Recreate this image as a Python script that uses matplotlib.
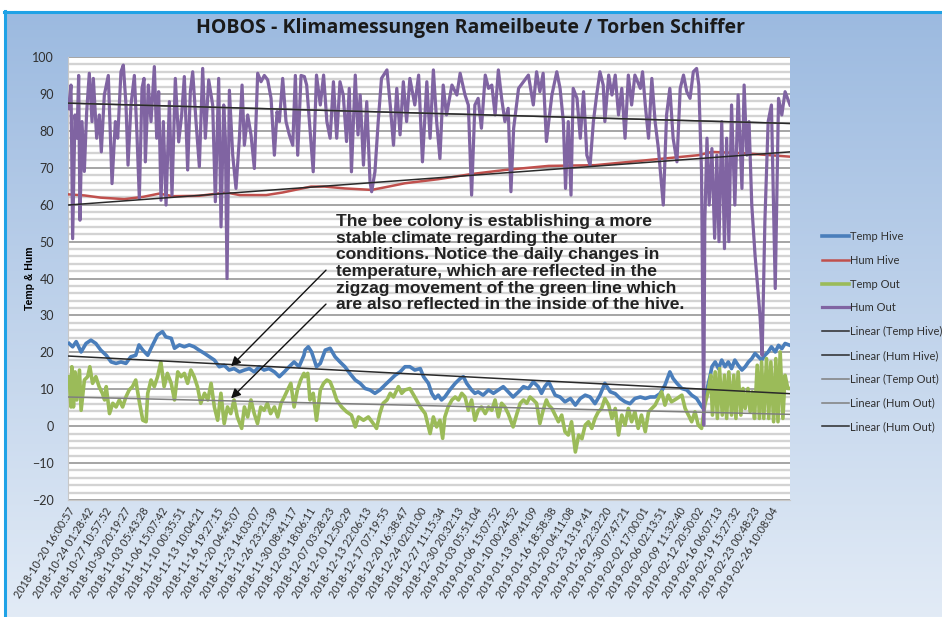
import numpy as np
import matplotlib
matplotlib.use("Agg")
import matplotlib.pyplot as plt

# ---------------- data (days since 2018-10-20 16:00:57) ----------------
tick_labels = [
    "2018-10-20 16:00:57", "2018-10-24 01:28:42", "2018-10-27 10:57:52", "2018-10-30 20:19:27",
    "2018-11-03 05:43:28", "2018-11-06 15:07:42", "2018-11-10 00:35:51", "2018-11-13 10:04:21",
    "2018-11-16 19:27:15", "2018-11-20 04:45:07", "2018-11-23 14:03:07", "2018-11-26 23:21:39",
    "2018-11-30 08:41:17", "2018-12-03 18:06:11", "2018-12-07 03:28:23", "2018-12-10 12:50:29",
    "2018-12-13 22:06:13", "2018-12-17 07:19:55", "2018-12-20 16:38:47", "2018-12-24 02:01:00",
    "2018-12-27 11:15:34", "2018-12-30 20:32:13", "2019-01-03 05:51:04", "2019-01-06 15:07:52",
    "2019-01-10 00:24:52", "2019-01-13 09:41:09", "2019-01-16 18:58:38", "2019-01-20 04:11:08",
    "2019-01-23 13:19:41", "2019-01-26 22:32:20", "2019-01-30 07:47:21", "2019-02-02 17:00:01",
    "2019-02-06 02:13:51", "2019-02-09 11:32:40", "2019-02-12 20:50:02", "2019-02-16 06:07:13",
    "2019-02-19 15:27:32", "2019-02-23 00:48:23", "2019-02-26 10:08:04",
]
tick_days = [0.0, 3.39, 6.78, 10.18, 13.57, 16.96, 20.36, 23.75, 27.14, 30.53, 33.92, 37.31,
             40.70, 44.09, 47.48, 50.87, 54.25, 57.64, 61.03, 64.42, 67.80, 71.19, 74.58,
             77.96, 81.35, 84.74, 88.12, 91.51, 94.89, 98.27, 101.66, 105.04, 108.42,
             111.81, 115.20, 118.59, 121.98, 125.37, 128.76]
x_end = 132.2

hum_out_days = [
    0.1, 0.55, 0.85, 1.28, 1.64, 1.95, 2.19, 2.56, 2.99, 3.42, 3.9, 4.4, 4.64, 5.25, 5.74, 6.1,
    6.65, 7.38, 8.06, 8.67, 9.1, 9.7, 10.13, 10.62, 10.99, 11.53, 12.15, 12.63, 13.06, 13.55,
    13.92, 14.16, 14.71, 15.2, 15.81, 16.24, 16.6, 17.03, 17.46, 17.95, 18.56, 19.04, 19.65,
    20.27, 20.81, 21.3, 21.91, 22.4, 22.83, 23.44, 24.05, 24.66, 25.15, 25.76, 26.49, 26.98,
    27.59, 28.02, 28.51, 28.81, 29.12, 29.55, 30.16, 30.76, 31.38, 31.87, 32.29, 32.9, 33.51,
    34.12, 34.73, 35.34, 35.95, 36.56, 37.18, 37.79, 38.28, 38.7, 39.31, 39.92, 40.53, 41.15,
    41.63, 42.06, 42.67, 43.28, 43.7, 44.9, 45.5, 46.2, 46.8, 47.4, 48.0, 48.6, 49.2, 49.8,
    50.4, 51.0, 51.5, 51.9, 52.6, 53.1, 53.5, 54.1, 54.7, 55.3, 55.6, 56.2, 56.8, 57.4, 58.4,
    59.0, 59.6, 60.2, 60.8, 61.4, 62.0, 62.6, 63.5, 64.2, 64.9, 65.7, 66.3, 66.9, 67.5, 68.1,
    68.7, 69.3, 70.3, 71.2, 71.8, 72.7, 73.3, 73.9, 74.5, 75.1, 75.7, 76.4, 77.0, 77.6, 78.2,
    78.8, 79.4, 80.0, 80.6, 81.1, 81.6, 82.5, 83.4, 84.3, 85.2, 85.8, 86.4, 87.0, 87.6, 88.6,
    89.5, 90.1, 90.7, 91.1, 91.6, 92.1, 92.5, 93.2, 93.8, 94.4, 95.0, 95.6, 96.2, 96.8, 97.4,
    98.0, 98.3, 99.0, 99.6, 100.2, 100.8, 101.4, 102.0, 102.6, 103.2, 103.8, 104.8, 105.2,
    105.7, 106.3, 106.9, 107.5, 108.1, 109.0, 109.6, 110.2, 110.8, 111.5, 112.1, 112.7, 113.3,
    113.9, 114.5, 115.1, 115.5, 116.0, 116.4, 116.6, 117.0, 117.4, 117.9, 118.4, 118.8, 119.2,
    119.7, 120.2, 120.6, 121.0, 121.5, 122.1, 122.7, 123.4, 123.8, 124.3, 124.7, 125.2, 125.8,
    126.3, 126.7, 127.1, 127.6, 128.2, 128.8, 129.5, 130.1, 130.7, 131.3, 132.2]
hum_out = [
    86, 92.4, 50.8, 84.3, 78, 95, 55.8, 82.5, 69, 85.2, 95.6, 82.5, 94.2, 78, 84.3, 74.3,
    89.7, 95, 65.7, 82.5, 78, 96, 97.8, 87, 70.7, 87, 95, 78.9, 61.7, 91.5,
    94.2, 71.6, 92.4, 82.5, 97.4, 78, 90.6, 61.2, 82.5, 59.9, 87.9, 62.6, 94.2,
    77, 84.3, 94.7, 69.4, 90.6, 96, 82.5, 70.3, 96.9, 78, 93.8, 87, 60.8,
    94.2, 54, 87, 78, 40, 91, 73.4, 64.4, 78, 92.4, 76.1, 84.3, 78.9,
    69.8, 95.6, 93.3, 95, 93.8, 88.8, 73.4, 85.2, 82.5, 94.2, 82.5, 78.9, 76.1,
    95, 73.4, 95, 94.7, 92.4, 68.9, 95.1, 87, 95.1, 82.5, 78, 93.3, 78, 93.3,
    89.7, 77.1, 91.5, 68.9, 95.1, 78.9, 89.7, 70.7, 87.9, 66.2, 63.5, 68.9, 82.5, 94.2, 96.5,
    87, 76.1, 91.5, 78.9, 93.3, 82.5, 94.2, 87, 95.1, 71.6, 93.3, 78, 96.5, 82.5, 72.5,
    92.4, 84.3, 92.4, 89.7, 95.6, 89.7, 87, 62.6, 87, 88.8, 80.7, 95.1, 91.5, 92.4, 84.3,
    96.5, 88.8, 82.5, 86.1, 63.5, 80.7, 91.5, 93.3, 95.1, 87, 96, 90.6, 95.6, 77.1, 89.7,
    96, 91.5, 82.5, 64.4, 82.5, 62.6, 91.5, 88.8, 78, 90.6, 73.4, 70.7, 82.5, 89.7, 96,
    92.4, 82.5, 95.1, 89.7, 95.1, 84.3, 91.5, 78, 95.1, 87, 95.1, 91.5, 96,
    87, 78, 94.2, 82.5, 75.2, 59.9, 84.3, 91.5, 78, 71.6, 91.5, 95.1, 90.6,
    88.8, 96, 96.9, 92.4, 68.9, 0.3, 55.4, 78, 59.9, 75.2, 50.9, 73.4, 50,
    82.5, 48.1, 78, 50, 87, 59.9, 89.7, 64.4, 92.4, 73.4, 82.5, 59.9, 46.3,
    37.3, 30.1, 19.2, 55.4, 82.5, 87, 37.3, 88.8, 84.3, 90.6, 87]

hum_hive_days = [0, 3, 6, 10.3, 13.7, 16.7, 19.2, 24, 29, 31.4, 36.3, 39.3, 44.5, 47, 50.7,
                 55.6, 58.7, 61.7, 67.8, 73.9, 80, 88, 96.5, 105.7, 115.4, 117.9, 124, 132.2]
hum_hive = [62.8, 62.5, 61.9, 61.5, 62.1, 63, 62.3, 62.4, 63.3, 62.6, 62.6, 63.3, 64.9, 64.9,
            64.4, 64.0, 64.9, 65.8, 66.9, 68.3, 69.4, 70.5, 70.7, 72.0, 73.4, 74.3, 73.9, 73.0]

temp_hive_days = [
    0.2, 0.85, 1.5, 2.4, 3.3, 4.2, 5.1, 6.0, 7.0, 7.9, 8.8, 9.7, 10.6, 11.5, 12.4, 13.0, 13.7,
    14.6, 15.2, 15.8, 16.4, 17.3, 17.9, 18.9, 19.5, 20.4, 21.3, 22.2, 23.1, 24.0, 25.0, 25.9,
    26.8, 27.7, 28.6, 29.5, 30.4, 31.4, 32.3, 33.2, 34.1, 35.0, 35.9, 36.8, 37.8, 38.7, 39.6,
    40.5, 41.4, 42.3, 43.2, 43.4, 44.0, 44.6, 45.5, 46.2, 47.1, 48.0, 48.9, 49.8, 50.7, 51.6,
    52.6, 53.5, 54.4, 55.3, 56.2, 57.1, 58.0, 59.0, 59.9, 60.8, 61.7, 62.6, 63.5, 64.5, 65.1,
    66.0, 66.6, 67.2, 67.8, 68.4, 69.0, 69.9, 70.9, 71.8, 72.4, 73.0, 73.9, 74.5, 75.1, 76.0,
    77.0, 77.9, 78.8, 79.7, 80.6, 81.5, 82.5, 83.4, 84.3, 85.2, 86.1, 86.7, 87.3, 88.0, 88.6,
    89.2, 90.1, 91.0, 92.0, 92.9, 93.8, 94.7, 95.6, 96.5, 97.4, 98.3, 99.3, 100.2, 101.1,
    102.0, 102.9, 103.8, 104.8, 105.7, 106.6, 107.5, 108.4, 109.3, 110.2, 110.8, 111.5, 112.4,
    113.3, 114.2, 115.1, 115.7, 116.3, 116.9, 117.6, 117.9, 118.5, 119.1, 119.7, 120.3, 120.9,
    121.5, 122.1, 122.7, 123.4, 124.0, 124.6, 125.2, 125.8, 126.4, 127.0, 127.6, 128.2, 128.8,
    129.5, 130.1, 130.7, 131.3, 132.2]
temp_hive = [
    22.4, 21.5, 22.9, 20.1, 22.4, 23.3, 22.4, 20.6, 19.2, 17.4, 17.0, 17.4, 17.0, 18.8, 19.2,
    22.0, 20.6, 19.2, 21.1, 22.9, 24.7, 25.6, 24.2, 23.8, 21.1, 22.0, 21.5, 22.0, 21.5, 20.6,
    19.7, 18.8, 17.9, 16.1, 16.5, 15.2, 15.6, 14.7, 15.2, 15.6, 14.7, 16.1, 15.2, 15.6, 14.7,
    13.4, 14.7, 16.1, 17.4, 16.1, 19.2, 20.6, 21.5, 20.1, 16.1, 17.0, 20.6, 21.1, 18.8, 17.4,
    16.1, 14.3, 12.5, 11.6, 10.2, 9.8, 8.9, 9.8, 11.1, 12.5, 13.8, 14.7, 16.1, 16.1, 15.2,
    15.6, 13.4, 11.6, 8.9, 7.5, 8.4, 7.1, 7.9, 9.8, 11.6, 12.9, 13.4, 11.6, 9.8, 8.9, 9.3,
    8.4, 9.8, 8.9, 9.8, 10.7, 9.3, 7.9, 9.3, 10.7, 10.2, 12.0, 10.7, 8.9, 10.7, 12.0, 10.2,
    8.4, 7.9, 6.6, 7.5, 5.7, 7.5, 8.4, 7.9, 6.1, 8.4, 11.6, 9.3, 8.8, 7.5,
    6.6, 6.1, 7.5, 7.9, 7.5, 7.9, 7.9, 8.8, 11.1, 14.7, 12.9, 11.6, 10.2,
    9.8, 8.4, 7.5, 6.1, 4.8, 9.3, 13.8, 16.1, 17.4, 15.6, 17.9, 16.1, 17.4,
    15.6, 17.9, 16.5, 15.2, 16.1, 17.4, 18.3, 19.7, 18.8, 17.9, 19.2, 20.1, 21.5,
    20.1, 21.9, 21.0, 22.4, 21.9]

temp_out_days = [
    0.2, 0.55, 0.7, 1.0, 1.3, 1.6, 2.1, 2.4, 3.0, 3.6, 4.0, 4.5, 5.1, 5.7, 6.3, 6.7, 7.0, 7.6,
    8.2, 8.8, 9.4, 10.0, 10.6, 11.2, 11.8, 12.4, 13.0, 13.7, 14.3, 14.6, 15.2, 15.8, 16.4,
    17.0, 17.6, 18.2, 18.9, 19.5, 20.1, 20.7, 21.3, 21.9, 22.5, 23.1, 23.7, 24.3, 25.0, 25.6,
    26.2, 26.8, 27.4, 28.0, 28.6, 29.2, 29.8, 30.4, 31.0, 31.8, 32.3, 32.9, 33.5, 34.1, 34.7,
    35.3, 35.9, 36.5, 37.1, 37.8, 38.4, 39.0, 39.6, 40.2, 40.8, 41.4, 42.0, 42.6, 43.2, 43.4,
    43.9, 44.3, 44.9, 45.5, 46.2, 46.8, 47.4, 48.0, 48.6, 49.2, 50.1, 51.0, 51.9, 52.6, 53.2,
    54.1, 55.0, 55.9, 56.5, 57.1, 57.7, 58.4, 59.0, 59.6, 60.5, 61.1, 61.7, 62.6, 63.5, 64.5,
    65.4, 66.3, 66.9, 67.5, 68.1, 68.6, 69.0, 69.6, 70.3, 70.9, 71.5, 72.1, 72.7, 73.3, 73.9,
    74.5, 75.1, 75.7, 76.4, 77.0, 77.6, 78.2, 78.8, 79.4, 80.0, 80.6, 81.5, 82.2, 82.8, 83.4,
    84.0, 84.6, 85.2, 85.8, 86.4, 87.0, 87.6, 88.0, 88.6, 89.2, 89.8, 90.4, 91.0, 91.6, 92.2,
    92.9, 93.5, 94.1, 94.7, 95.3, 95.9, 96.5, 97.1, 97.7, 98.3, 99.0, 99.6, 100.2, 100.8,
    101.4, 102.0, 102.6, 103.2, 103.8, 104.4, 105.0, 105.7, 106.3, 106.9, 107.5, 108.1, 108.7,
    109.3, 109.9, 110.5, 111.5, 112.4, 113.0, 113.6, 114.2, 114.8, 115.4, 116.0, 116.6, 117.2,
    117.7, 118.0, 118.5, 118.9, 119.3, 119.8, 120.2, 120.6, 121.0, 121.5, 121.9, 122.3, 122.7,
    123.2, 123.6, 124.0, 124.5, 124.9, 125.3, 125.7, 126.2, 126.6, 127.0, 127.4, 127.9, 128.3,
    128.7, 129.2, 129.6, 130.0, 130.4, 130.9, 131.3, 131.8, 132.2]
temp_out = [
    13.4, 5.2, 16.1, 5.2, 14.7, 7.1, 15.2, 4.3, 12.5, 13.4, 16.1, 11.6, 13.4, 10.7, 8.9, 7.1,
    10.7, 3.4, 6.2, 5.2, 7.1, 5.2, 7.9, 9.8, 10.7, 12.5, 7.1, 1.6, 1.2, 8.9, 12.5, 10.7, 13.4,
    17.4, 10.7, 14.3, 11.6, 7.1, 14.7, 13.4, 14.3, 11.6, 15.2, 13.4, 10.7, 6.2, 8.9, 7.1,
    11.6, 5.2, 1.6, 8.9, 0.7, 5.2, 3.4, 7.1, 2.5, -0.6, 5.2, 2.5, 7.1, 3.4, 0.7,
    5.2, 4.3, 6.2, 3.4, 5.2, 2.5, 6.2, 7.9, 9.8, 11.6, 5.2, 9.8, 12.5, 14.3, 13.4,
    14.3, 7.1, 8.9, 1.6, 9.8, 11.6, 12.5, 12.0, 9.8, 7.1, 5.2, 3.9, 3.0, -0.2, 2.5,
    1.6, 2.5, 0.7, -0.6, 3.4, 6.2, 7.1, 8.9, 7.9, 10.7, 8.9, 9.8, 10.2, 7.9, 5.2,
    3.4, -2.0, 2.5, -0.2, 1.6, -3.3, 2.5, 5.2, 7.1, 7.9, 7.1, 8.9, 7.9, 4.3, 7.1,
    1.6, 4.3, 5.2, 3.4, 5.2, 4.3, 7.1, 2.5, 6.2, 5.2, 3.4, -0.2, 3.4, 6.2, 7.1,
    6.2, 7.9, 7.1, 6.2, 0.7, 4.3, 7.1, 5.7, 4.8, 3.0, 1.2, 3.0, -1.5, -2.4, 1.2,
    -7.0, -2.4, -3.4, 0.3, 1.2, -0.6, 2.1, 3.9, 4.8, 7.5, 5.7, 2.1, 4.8, -2.4,
    3.0, 0.3, 4.8, 1.2, 3.9, -0.6, 3.0, -1.5, 3.9, 4.8, 5.7, 7.5, 9.3,
    5.7, 8.4, 6.6, 7.5, 8.4, 4.8, 3.0, 1.2, 3.9, 0.3, -0.6, 5.7, 9.3,
    13.8, 3.0, 14.7, 2.1, 15.6, 3.0, 13.8, 2.1, 14.7, 3.0, 13.8, 2.1, 14.7,
    3.0, 10.2, 4.8, 10.2, 3.9, 9.3, 2.1, 16.5, 2.1, 17.4, 2.1, 18.3, 2.1,
    17.4, 1.2, 18.3, 1.2, 20.1, 2.1, 13.8, 10.2, 10.2]

# Linear trend lines: value at start and at end of the axis
trend_names = ["Linear (Temp Hive)", "Linear (Hum Hive)", "Linear (Temp Out)",
               "Linear (Hum Out)", "Linear (Hum Out)"]
trend_start = [19.0, 59.9, 7.9, 87.5, 87.5]
trend_end = [8.8, 74.3, 3.2, 82.0, 82.0]

# ---------------- figure ----------------
W, H = 942, 617
fig = plt.figure(figsize=(W / 100, H / 100), dpi=100)
fig.patch.set_facecolor("white")

# gradient background panel
bg = fig.add_axes([4 / W, 0, 1 - 4 / W, 1 - 11 / H], zorder=-5)
grad = np.linspace(0, 1, 256).reshape(-1, 1)
top = np.array([0x9c, 0xba, 0xe0]) / 255
bot = np.array([0xe2, 0xeb, 0xf6]) / 255
img = top[None, None, :] * (1 - grad[:, :, None]) + bot[None, None, :] * grad[:, :, None]
bg.imshow(img, aspect="auto", extent=[0, 1, 0, 1])
bg.set_xlim(0, 1)
bg.set_ylim(0, 1)
bg.axis("off")
fig.add_artist(plt.Line2D([4.5 / W, 4.5 / W], [0, 1 - 11 / H], color="#1fa2e6", lw=2.2,
                          transform=fig.transFigure))
fig.add_artist(plt.Line2D([4 / W, 1], [1 - 11.5 / H, 1 - 11.5 / H], color="#1fa2e6", lw=2.2,
                          transform=fig.transFigure))

ax = fig.add_axes([68 / W, 1 - 500 / H, (790 - 68) / W, (500 - 57) / H])
ax.set_facecolor("white")

ax.set_ylim(-20, 100)
ax.set_xlim(0, x_end)
ax.set_yticks(np.arange(-20, 101, 10))
ax.set_yticks(np.arange(-20, 101, 2), minor=True)
ax.grid(True, which="minor", axis="y", color="#d3d3d3", lw=1.7, zorder=0)
ax.grid(True, which="major", axis="y", color="#a5a5a5", lw=1.4, zorder=0)
ax.set_axisbelow(True)
for s in ["top", "right"]:
    ax.spines[s].set_visible(False)
ax.spines["left"].set_color("#c8c8c8")
ax.spines["bottom"].set_color("#c8c8c8")

lh_blue, = ax.plot(temp_hive_days, temp_hive, color="#4a7ebb", lw=2.6, label="Temp Hive", zorder=3)
lh_red, = ax.plot(hum_hive_days, hum_hive, color="#c0504d", lw=1.8, label="Hum Hive", zorder=3)
lh_green, = ax.plot(temp_out_days, temp_out, color="#9bbb59", lw=2.6, label="Temp Out", zorder=3)
lh_purple, = ax.plot(hum_out_days, hum_out, color="#8064a2", lw=2.3, label="Hum Out", zorder=3)

trend_colors = ["#2a2a2a", "#2a2a2a", "#7f7f7f", "#7f7f7f", "#2a2a2a"]
handles = [lh_blue, lh_red, lh_green, lh_purple]
for name, a, b, c in zip(trend_names, trend_start, trend_end, trend_colors):
    h, = ax.plot([0, x_end], [a, b], color=c, lw=1.1, label=name, zorder=4)
    handles.append(h)

ax.set_xticks(tick_days)
ax.set_xticklabels(tick_labels, rotation=58, ha="right", va="top", rotation_mode="anchor",
                   fontsize=7.8, family="Lato", color="#303030")
ax.tick_params(axis="x", length=0, pad=4)
ax.tick_params(axis="y", which="both", length=0, labelsize=9, pad=10, labelcolor="#303030")
for t in ax.get_yticklabels():
    t.set_family("Lato")
ax.set_ylabel("Temp & Hum", fontsize=7.5, fontweight="bold", family="Liberation Sans")
ax.yaxis.set_label_coords(-0.046, 0.5)

fig.text(470 / W, 1 - 28 / H, "HOBOS - Klimamessungen Rameilbeute / Torben Schiffer",
         ha="center", va="center", fontsize=14, fontweight="bold", family="Open Sans",
         color="#1a1a1a")

note = ("The bee colony is establishing a more\n"
        "stable climate regarding the outer\n"
        "conditions. Notice the daily changes in\n"
        "temperature, which are reflected in the\n"
        "zigzag movement of the green line which\n"
        "are also reflected in the inside of the hive.")
ax.text(49.1, 57.4, note, ha="left", va="top", fontsize=12.6, fontweight="bold",
        family="Liberation Sans", color="#222222", linespacing=1.13, zorder=6)

arrow_props = dict(arrowstyle="-|>", color="#111111", lw=1.0, mutation_scale=14)
ax.annotate("", xy=(29.5, 15.7), xytext=(47.6, 42.8), arrowprops=arrow_props, zorder=6)
ax.annotate("", xy=(29.5, 7.0), xytext=(47.6, 33.6), arrowprops=arrow_props, zorder=6)

leg = fig.legend(handles=handles, loc="upper left", bbox_to_anchor=(812 / W, 1 - 221 / H),
                 frameon=False, handlelength=2.4, handletextpad=0.15,
                 labelspacing=1.15, prop={"family": "Lato", "size": 8.0})
for t in leg.get_texts():
    t.set_color("#303030")

fig.savefig("out.png", dpi=100)
